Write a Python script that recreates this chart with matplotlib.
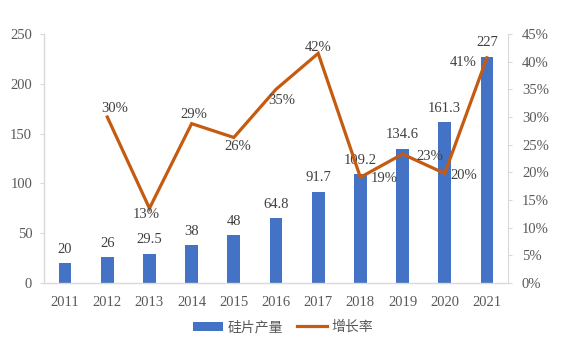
import matplotlib
matplotlib.use("Agg")
import matplotlib.pyplot as plt
import numpy as np
from matplotlib.patches import Patch
from matplotlib.lines import Line2D

years = ["2011", "2012", "2013", "2014", "2015", "2016", "2017", "2018", "2019", "2020", "2021"]
output = [20, 26, 29.5, 38, 48, 64.8, 91.7, 109.2, 134.6, 161.3, 227]
output_labels = ["20", "26", "29.5", "38", "48", "64.8", "91.7", "109.2", "134.6", "161.3", "227"]
growth_years = ["2012", "2013", "2014", "2015", "2016", "2017", "2018", "2019", "2020", "2021"]
growth = [30.0, 13.5, 28.8, 26.3, 35.0, 41.5, 19.1, 23.3, 19.8, 40.7]
growth_labels = ["30%", "13%", "29%", "26%", "35%", "42%", "19%", "23%", "20%", "41%"]
left_ticks = [0, 50, 100, 150, 200, 250]
right_ticks = [0, 5, 10, 15, 20, 25, 30, 35, 40, 45]

# label offsets in pixels (style only)
growth_offsets = [(7, 9), (-3, -6), (2, 9), (4, -9), (6, -11), (0, 6), (24, -1), (27, -2), (19, -2), (-24, -5)]

serif = "Liberation Serif"
cjk = ["Noto Sans CJK SC", "DejaVu Sans"]
txt = "#595959"
lbl = "#404040"
bar_c = "#4472C4"
line_c = "#C55A11"
spine_c = "#D9D9D9"

fig = plt.figure(figsize=(5.63, 3.51), dpi=100)
ax = fig.add_axes([44 / 563, 1 - 283 / 351, (508 - 44) / 563, (283 - 34) / 351])
x = np.arange(len(years))
ax.bar(x, output, width=0.3, color=bar_c, zorder=2)
ax.set_xlim(-0.5, len(years) - 0.5)
ax.set_ylim(0, 250)
ax.set_yticks(left_ticks)
ax.set_yticklabels([str(t) for t in left_ticks], fontfamily=serif, fontsize=10.5, color=txt)
ax.set_xticks(x)
ax.set_xticklabels(years, fontfamily=serif, fontsize=10.5, color=txt)
ax.tick_params(axis="x", length=0, pad=9)
ax.tick_params(axis="y", length=3, color=spine_c, pad=5.5)
for s in ["top", "right"]:
    ax.spines[s].set_visible(False)
for s in ["left", "bottom"]:
    ax.spines[s].set_color(spine_c)
    ax.spines[s].set_linewidth(1)

for xi, v, t in zip(x, output, output_labels):
    ax.annotate(t, (xi, v), xytext=(0, 14), textcoords="offset pixels",
                ha="center", va="center", fontfamily=serif, fontsize=10.5, color=lbl, zorder=4)

ax2 = ax.twinx()
gx = [years.index(y) for y in growth_years]
ax2.plot(gx, growth, color=line_c, linewidth=2.3, zorder=3, solid_joinstyle="miter")
ax2.set_ylim(0, 45)
ax2.set_yticks(right_ticks)
ax2.set_yticklabels([f"{t}%" for t in right_ticks], fontfamily=serif, fontsize=10.5, color=txt)
ax2.tick_params(axis="y", length=3, color=spine_c, pad=7)
for s in ["top", "left", "bottom"]:
    ax2.spines[s].set_visible(False)
ax2.spines["right"].set_color(spine_c)

for xi, v, t, (dx, dy) in zip(gx, growth, growth_labels, growth_offsets):
    ax2.annotate(t, (xi, v), xytext=(dx, dy), textcoords="offset pixels",
                 ha="center", va="center", fontfamily=serif, fontsize=10.5, color=lbl, zorder=4)

handles = [Patch(facecolor=bar_c, edgecolor="none"),
           Line2D([0], [0], color=line_c, linewidth=2.3)]
leg = fig.legend(handles, ["硅片产量", "增长率"], loc="center",
                 bbox_to_anchor=(283 / 563, 1 - 327 / 351), ncol=2, frameon=False,
                 prop={"family": cjk, "size": 10}, handlelength=2.2, handleheight=0.6,
                 columnspacing=1.0, handletextpad=0.3)
for t in leg.get_texts():
    t.set_color(txt)

fig.savefig("out.png", dpi=100)
